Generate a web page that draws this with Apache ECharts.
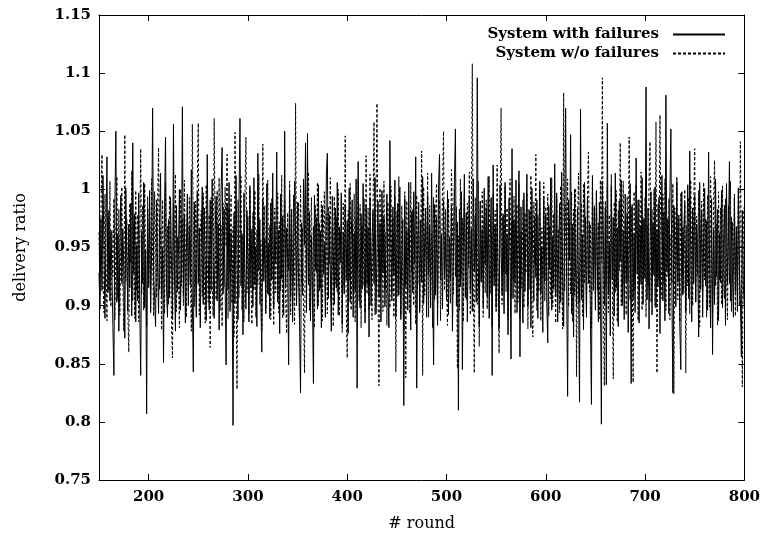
<!DOCTYPE html>
<html><head><meta charset="utf-8">
<script src="https://cdn.jsdelivr.net/npm/echarts@6/dist/echarts.min.js"></script>
<style>html,body{margin:0;padding:0;background:#fff}#c{width:763px;height:540px}</style>
</head><body><div id="c"></div>
<script>
// rounds 150..800, one value per round
const firstRound = 150;
const xTicks = [200, 300, 400, 500, 600, 700, 800];
const yTicks = [0.75, 0.8, 0.85, 0.9, 0.95, 1, 1.05, 1.1, 1.15];
const seriesNames = ['System with failures', 'System w/o failures'];

const withFailures = [
0.928,0.897,0.975,0.913,1.012,0.946,0.889,0.958,1.028,0.911,
0.982,0.904,0.964,0.931,0.882,0.840,0.987,1.050,0.903,0.961,
0.878,0.947,0.995,0.919,0.966,0.932,0.872,1.001,0.944,0.895,
0.970,0.915,0.988,0.891,1.040,0.928,0.979,0.886,0.952,0.904,
0.997,0.901,0.840,0.963,0.919,1.006,0.898,0.948,0.807,0.983,
0.917,0.999,0.894,0.951,1.070,0.925,0.906,0.882,0.991,0.935,
0.893,0.969,1.014,0.906,0.950,0.851,0.982,1.045,0.913,0.890,
0.974,0.907,0.993,0.938,0.889,1.056,0.924,0.878,0.986,0.912,
0.945,1.000,0.896,0.935,1.071,0.909,0.978,0.885,0.947,0.996,
0.900,0.969,0.918,1.017,0.904,0.843,0.989,0.932,0.890,0.998,
0.919,0.967,0.881,0.953,1.002,0.901,0.984,0.926,0.887,1.030,
0.942,0.896,0.991,0.913,1.009,0.938,0.889,0.965,0.994,0.904,
0.970,0.879,0.947,0.999,1.036,0.910,0.983,0.921,0.849,0.988,
0.914,1.006,0.895,0.963,0.927,0.797,0.980,0.902,1.012,0.936,
0.888,0.990,1.061,0.917,0.962,0.875,0.997,0.923,0.897,0.982,
0.939,0.886,1.001,0.915,0.966,0.899,1.010,0.918,0.951,0.882,
1.031,0.930,0.974,0.904,0.860,0.992,0.921,0.958,0.893,1.005,
0.910,0.954,0.889,0.988,0.922,1.014,0.898,0.972,0.936,1.032,
0.903,0.965,0.876,0.996,0.923,0.977,0.892,1.050,0.915,0.967,
0.941,0.849,0.998,0.907,0.983,0.886,0.940,1.007,0.959,0.900,
0.989,0.924,0.883,0.825,0.971,0.909,1.009,0.952,1.040,0.894,
1.048,0.918,0.981,0.887,0.960,0.906,0.833,0.995,0.931,0.976,
0.897,1.004,0.913,0.964,0.881,0.986,0.927,0.955,0.890,1.013,
1.031,0.906,0.978,0.929,0.878,0.994,0.946,0.901,0.984,0.915,
1.006,0.892,0.968,0.937,0.997,0.884,0.963,0.910,0.987,0.922,
0.973,0.876,1.001,0.903,0.958,0.991,0.890,0.962,0.912,1.009,
0.829,1.024,0.924,0.898,0.979,0.914,1.005,0.945,0.885,0.986,
0.918,0.967,0.873,0.993,0.900,0.956,0.982,0.919,1.010,0.893,
0.950,0.990,0.907,0.971,0.886,0.999,0.928,0.976,0.899,0.954,
0.996,0.912,0.881,1.042,0.958,0.904,0.985,0.926,1.008,0.891,
0.947,0.988,0.909,1.002,0.888,0.941,0.974,0.814,0.992,0.917,
0.965,0.896,1.006,0.929,0.879,0.981,0.911,0.998,0.937,1.028,
0.829,0.952,0.989,0.894,0.973,0.920,1.011,0.902,0.955,0.984,
0.890,0.995,0.926,0.968,0.898,1.014,0.934,0.849,0.987,0.909,
0.976,0.883,1.003,1.030,0.922,0.961,0.897,0.991,0.925,0.963,
0.905,0.999,0.892,0.959,0.921,0.986,0.878,0.946,1.007,1.052,
0.900,0.972,0.810,0.983,0.916,0.998,0.845,0.951,1.013,0.907,
0.980,0.886,0.952,0.994,0.913,0.966,0.895,1.009,0.929,0.977,
0.903,1.096,0.938,0.882,0.990,0.921,0.966,0.899,1.001,0.935,
0.984,0.908,1.011,0.889,0.957,0.993,0.840,1.021,0.917,0.969,
0.898,0.988,0.923,0.880,1.004,0.948,0.910,0.979,0.893,1.006,
0.927,0.962,0.875,0.992,0.939,0.854,1.035,0.906,0.974,0.919,
1.008,0.894,0.954,1.016,0.856,0.985,0.920,0.885,0.997,0.912,
0.965,1.013,0.899,0.946,0.982,0.881,1.001,0.933,0.904,0.977,
0.924,0.991,0.889,0.958,1.007,0.911,0.950,0.877,0.994,0.921,
0.978,0.902,0.868,0.986,0.931,1.010,0.896,0.959,0.914,1.022,
0.908,0.997,0.886,0.951,0.988,0.903,1.015,0.925,0.882,0.973,
1.070,0.917,0.822,0.991,0.940,1.047,0.893,0.970,0.873,1.000,
0.931,0.899,0.983,0.916,0.817,1.069,0.905,0.961,0.879,1.006,
0.947,0.890,0.994,0.919,0.972,0.884,0.815,1.012,0.913,0.985,
0.896,0.999,0.935,0.886,0.989,0.922,0.798,1.007,0.960,0.900,
0.984,0.832,1.057,0.909,0.953,0.874,1.003,0.922,0.976,0.891,
1.014,0.915,0.967,0.882,0.990,0.938,1.008,0.900,0.965,0.888,
0.996,0.921,0.979,0.877,0.944,1.005,0.833,0.987,0.906,0.962,
0.894,1.027,0.927,0.991,0.885,0.969,0.918,1.010,0.901,0.974,
0.923,1.088,0.905,0.984,0.880,0.957,0.998,0.892,0.971,0.926,
1.002,0.898,0.965,0.916,0.993,0.876,0.949,1.012,0.904,0.981,
0.887,1.081,0.930,0.975,0.893,0.995,1.052,0.913,0.825,0.986,
0.952,0.899,1.007,0.920,0.978,0.882,0.845,0.998,0.909,0.965,
0.988,0.894,0.947,1.004,0.906,1.033,0.951,0.886,0.984,0.919,
0.995,0.903,0.970,0.938,0.873,1.006,0.914,0.981,0.890,0.956,
1.001,0.917,0.973,0.896,1.032,0.937,0.881,0.992,0.858,0.965,
0.901,1.009,0.925,0.983,0.887,0.962,0.920,0.999,0.898,0.950,
0.986,0.883,1.005,0.919,0.961,1.024,0.904,0.976,0.928,0.890,
0.993,0.912,0.968,0.895,1.001,0.933,0.906,0.856,0.982,0.917,
0.900
];

const withoutFailures = [
0.963,0.909,0.981,1.030,0.920,0.894,0.996,0.942,0.887,0.976,
0.913,1.007,0.899,0.965,0.925,0.992,0.888,0.957,1.011,0.906,
0.983,0.892,0.956,1.002,0.918,0.878,1.047,0.921,0.974,0.897,
0.860,0.988,0.937,1.016,0.904,0.970,0.889,0.999,0.913,0.978,
0.886,0.951,1.035,0.910,0.986,0.896,1.005,0.934,0.882,0.994,
0.915,0.972,0.898,1.009,0.943,0.891,0.998,0.952,0.907,0.983,
1.036,0.914,0.967,0.879,0.991,0.930,0.893,1.006,0.915,0.968,
0.901,0.995,0.949,0.887,0.855,0.987,0.919,1.013,0.895,0.959,
0.924,0.881,1.000,0.917,0.975,0.900,1.008,0.936,0.890,0.989,
0.912,0.993,0.931,0.878,1.056,0.964,0.899,0.990,0.923,1.006,
1.057,0.892,0.961,0.982,0.908,0.997,0.926,0.885,1.004,0.940,
0.903,0.978,0.864,0.993,0.917,0.891,1.061,0.959,0.905,0.999,
0.935,1.010,0.896,0.969,0.882,0.988,0.916,1.002,0.951,1.030,
0.889,0.983,0.928,0.995,0.902,0.968,0.873,1.049,0.930,0.828,
0.991,0.907,0.973,1.011,0.896,0.960,0.886,0.994,1.045,0.911,
0.977,0.893,1.004,0.922,0.884,0.980,0.913,0.999,0.890,0.965,
0.918,1.013,0.901,0.956,0.879,1.039,0.936,0.986,0.897,0.974,
1.008,0.909,0.969,0.888,0.992,0.925,0.883,0.984,0.911,0.963,
0.997,0.894,0.972,0.913,1.012,0.889,0.958,0.990,0.904,0.876,
0.980,0.930,1.007,0.892,0.963,0.917,0.995,0.884,1.074,0.908,
0.953,0.989,0.890,1.003,0.919,0.967,0.898,0.842,1.000,0.917,
0.973,1.015,0.896,0.954,0.993,0.902,0.968,0.881,0.986,0.928,
1.006,0.900,0.971,0.915,0.990,0.887,0.964,0.998,0.913,0.979,
0.893,0.985,0.936,1.010,0.905,0.967,0.882,0.994,0.919,0.976,
0.911,1.000,0.891,0.963,0.938,0.877,0.988,0.916,1.046,0.898,
0.855,0.982,0.922,1.005,0.896,0.970,0.913,0.996,0.886,0.975,
0.931,1.008,0.904,0.987,0.881,0.969,0.917,0.992,0.894,1.029,
0.910,0.984,0.897,1.013,0.930,0.888,0.979,1.058,0.892,0.991,
1.074,0.915,0.831,1.001,0.922,0.982,0.895,1.007,0.914,0.963,
0.883,0.989,0.935,0.898,1.003,0.911,0.976,0.890,0.994,0.843,
0.981,0.908,1.011,0.929,0.892,0.986,0.920,0.879,0.998,0.838,
0.990,0.912,0.967,0.893,1.006,0.929,0.983,0.900,0.961,0.884,
0.995,0.918,0.974,0.897,0.956,1.033,0.840,1.002,0.909,0.970,
0.926,1.014,0.890,0.986,0.912,0.962,0.881,0.993,0.905,0.977,
1.005,0.899,0.952,0.991,0.887,0.944,0.997,1.050,0.913,0.983,
0.918,0.883,0.992,0.937,0.902,1.017,0.971,0.910,1.000,0.925,
0.985,0.846,0.960,0.896,1.009,0.924,0.975,0.886,0.995,0.932,
0.905,0.988,0.933,1.015,0.892,0.969,1.108,0.916,0.842,0.993,
0.941,0.901,1.007,0.865,0.983,0.920,0.998,0.890,0.976,0.911,
0.991,0.897,0.958,1.011,0.910,0.964,0.882,0.996,0.924,0.982,
0.894,1.021,0.914,0.859,0.986,1.070,0.901,0.977,0.929,1.002,
0.912,0.984,0.888,0.963,1.009,0.907,0.972,0.922,0.994,0.893,
0.961,0.987,0.903,1.005,0.889,0.963,0.915,0.991,0.898,0.980,
0.928,0.997,0.880,0.983,0.914,1.012,0.900,0.873,0.989,0.936,
1.030,0.896,0.978,0.912,1.000,0.887,0.967,0.924,1.006,0.904,
0.985,0.921,0.996,0.891,0.969,0.906,1.010,0.899,0.979,0.934,
0.885,0.992,0.908,0.966,0.894,1.003,0.930,0.880,1.083,0.913,
0.987,0.925,1.009,0.899,0.974,0.910,0.998,0.886,0.983,0.909,
1.001,0.839,0.970,1.014,0.903,0.954,0.988,0.891,1.005,0.919,
0.976,0.898,0.993,1.032,0.912,0.970,0.881,1.007,0.925,0.986,
0.904,0.998,0.913,0.971,0.889,1.008,0.937,1.096,0.908,0.831,
0.990,0.916,1.002,0.894,0.978,0.910,1.013,0.923,0.837,0.989,
0.911,0.999,0.886,0.982,0.930,1.040,0.900,0.965,1.007,0.918,
0.974,0.892,0.994,0.921,1.045,0.905,0.985,0.931,0.834,0.998,
0.913,1.004,0.959,0.887,0.991,0.921,1.015,0.896,0.976,0.924,
0.993,0.890,0.969,0.917,1.008,1.041,0.903,0.983,0.928,1.000,
0.899,1.058,0.842,0.987,0.922,1.064,0.955,0.906,0.996,0.919,
1.009,0.896,0.973,0.925,0.992,0.888,0.961,0.919,1.005,0.824,
0.984,0.932,1.011,0.905,0.974,0.886,0.997,0.924,0.968,0.911,
1.000,0.842,0.969,0.917,0.993,0.893,1.008,0.929,0.900,0.986,
1.035,0.903,0.977,0.926,0.999,0.882,0.963,0.990,0.913,1.006,
0.922,0.975,0.890,0.995,0.931,0.899,1.011,0.948,0.894,0.987,
1.025,0.917,0.970,0.883,0.998,0.922,0.984,0.901,1.003,0.930,
0.906,0.992,0.934,0.888,0.986,0.919,1.007,0.895,0.972,0.927,
0.996,0.891,0.965,0.912,1.001,0.900,1.041,0.928,0.830,0.979,
0.985
];

function pairs(arr) { return arr.map((v, i) => [firstRound + i, v]); }

const FONT = 'DejaVu Serif';
const chart = echarts.init(document.getElementById('c'), null, { renderer: 'canvas' });

const tickLabel = { fontFamily: FONT, fontSize: 15, fontWeight: 'bold', color: '#000' };
const axisLineStyle = { lineStyle: { color: '#000', width: 1 } };

chart.setOption({
  animation: false,
  backgroundColor: '#fff',
  grid: { left: 99, right: 15, top: 15, bottom: 60, containLabel: false },
  legend: {
    data: seriesNames,
    orient: 'vertical',
    align: 'right',
    right: 32,
    top: 22,
    itemWidth: 52,
    itemHeight: 14,
    itemGap: 4,
    itemStyle: { opacity: 0 },
    textStyle: { fontFamily: FONT, fontSize: 15, fontWeight: 'bold', color: '#000', padding: [0, 9, 0, 0], lineHeight: 14 }
  },
  xAxis: [
    {
      type: 'value', min: 150, max: 800, position: 'bottom',
      name: '# round', nameLocation: 'middle', nameGap: 36,
      nameTextStyle: { fontFamily: FONT, fontSize: 16, color: '#000' },
      axisLine: axisLineStyle,
      axisTick: { inside: true, length: 6, customValues: xTicks, lineStyle: { color: '#000' } },
      axisLabel: { customValues: xTicks, margin: 10, ...tickLabel },
      splitLine: { show: false }
    },
    {
      type: 'value', min: 150, max: 800, position: 'top',
      axisLine: axisLineStyle,
      axisTick: { inside: true, length: 6, customValues: xTicks, lineStyle: { color: '#000' } },
      axisLabel: { show: false, customValues: xTicks },
      splitLine: { show: false }
    }
  ],
  yAxis: [
    {
      type: 'value', min: 0.75, max: 1.15, position: 'left',
      name: 'delivery ratio', nameLocation: 'middle', nameGap: 70, nameRotate: 90,
      nameTextStyle: { fontFamily: FONT, fontSize: 16, color: '#000' },
      axisLine: { show: true, ...axisLineStyle },
      axisTick: { show: true, inside: true, length: 6, customValues: yTicks, lineStyle: { color: '#000' } },
      axisLabel: { customValues: yTicks, margin: 8, formatter: v => String(+v.toFixed(2)), ...tickLabel },
      splitLine: { show: false }
    },
    {
      type: 'value', min: 0.75, max: 1.15, position: 'right',
      axisLine: { show: true, ...axisLineStyle },
      axisTick: { show: true, inside: true, length: 6, customValues: yTicks, lineStyle: { color: '#000' } },
      axisLabel: { show: false, customValues: yTicks },
      splitLine: { show: false }
    }
  ],
  series: [
    {
      name: seriesNames[0], type: 'line', data: pairs(withFailures),
      xAxisIndex: 0, yAxisIndex: 0,
      symbol: 'none', showSymbol: false,
      lineStyle: { color: '#000', width: 1, type: 'solid' },
      itemStyle: { color: '#000' }
    },
    {
      name: seriesNames[1], type: 'line', data: pairs(withoutFailures),
      xAxisIndex: 0, yAxisIndex: 0,
      symbol: 'none', showSymbol: false,
      lineStyle: { color: '#000', width: 1, type: [3, 2] },
      itemStyle: { color: '#000' }
    }
  ]
});
</script></body></html>
